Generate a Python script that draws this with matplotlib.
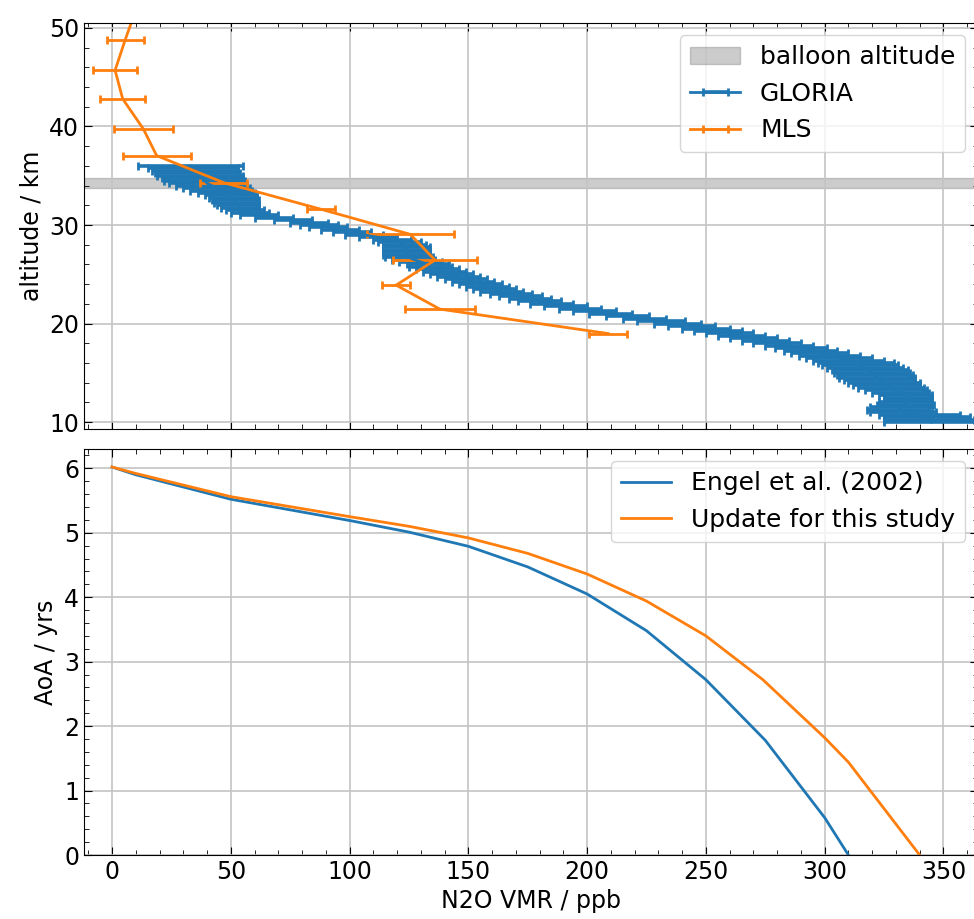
import matplotlib.pyplot as plt
from matplotlib.ticker import MultipleLocator
import numpy as np

plt.rcParams['font.size'] = 17
plt.rcParams['legend.fontsize'] = 18
plt.rcParams['lines.linewidth'] = 2
plt.rcParams['grid.color'] = '#c4c4c4'

# GLORIA N2O profile (0.25 km grid from 10 km to 36 km)
gloria_alt = np.arange(10.0, 36.01, 0.25)
gloria_n2o = [
    345, 344, 343, 340, 333, 331, 332, 334,
    334, 335, 335, 334, 332, 330, 328, 326,
    325, 323, 322, 321, 320, 319, 317, 315,
    313, 310, 306, 302, 298, 294, 290, 285,
    280, 275, 270, 265, 260, 255, 250, 244,
    238, 231, 224, 217, 210, 203, 197, 191,
    185, 180, 176, 172, 168, 164, 161, 158,
    155, 152, 149, 146, 143, 140, 137, 134,
    133, 130, 127, 125, 124, 124, 124, 124,
    123, 121, 118, 112, 106, 101, 96, 91,
    87, 83, 76, 68, 62, 58, 56, 54,
    53, 52, 52, 51, 50, 48, 46, 44,
    42, 40, 39, 38, 37, 36, 35, 34,
    33,
]
gloria_err = [
    20, 19, 18, 17, 14, 13, 13, 12,
    11, 10, 10, 11, 12, 13, 14, 14,
    15, 15, 16, 16, 16, 16, 16, 16,
    16, 15, 14, 13, 12, 11, 11, 10,
    10, 10, 10, 10, 10, 10, 10, 10,
    10, 10, 9, 9, 9, 9, 9, 9,
    9, 9, 9, 9, 9, 9, 9, 9,
    9, 9, 9, 9, 9, 9, 9, 9,
    9, 9, 9, 10, 10, 10, 10, 10,
    9, 9, 8, 8, 8, 8, 8, 8,
    8, 8, 8, 8, 8, 8, 8, 8,
    9, 9, 10, 10, 11, 12, 13, 14,
    15, 16, 17, 17, 18, 18, 18, 19,
    22,
]

# MLS N2O profile
mls_alt = [51.8, 48.75, 45.7, 42.8, 39.75, 37.04, 34.3, 31.6, 29.06, 26.45, 23.9, 21.47, 18.99]
mls_n2o = [10.0, 5.5, 1.3, 4.5, 13.2, 18.8, 47.0, 88.0, 125.5, 136.0, 119.6, 138.0, 208.8]
mls_err = [8.0, 7.8, 9.2, 9.4, 12.3, 14.3, 10.0, 6.0, 18.3, 17.7, 6.0, 14.6, 7.9]

# balloon float altitude range / km
balloon_alt = (33.8, 34.8)

# mean age of air vs N2O
engel_n2o = [0, 10, 50, 100, 125, 150, 175, 200, 225, 250, 275, 300, 310]
engel_aoa = [6.02, 5.9, 5.52, 5.19, 5.01, 4.79, 4.47, 4.05, 3.48, 2.72, 1.78, 0.58, 0.0]
update_n2o = [0, 10, 50, 100, 125, 150, 175, 200, 225, 250, 274, 300, 310, 340]
update_aoa = [6.02, 5.92, 5.56, 5.25, 5.1, 4.92, 4.68, 4.36, 3.94, 3.4, 2.72, 1.82, 1.44, 0.0]

fig, (ax1, ax2) = plt.subplots(2, 1, sharex=True, figsize=(9.74, 9.19), dpi=100)
fig.subplots_adjust(left=0.0862, right=1.004, top=0.975, bottom=0.0696, hspace=0.049)

ax1.axhspan(balloon_alt[0], balloon_alt[1], color='gray', alpha=0.4, label='balloon altitude')
ax1.errorbar(gloria_n2o, gloria_alt, xerr=gloria_err, color='C0',
             elinewidth=2.6, capsize=3, capthick=2, label='GLORIA')
ax1.errorbar(mls_n2o, mls_alt, xerr=mls_err, color='C1',
             capsize=3, capthick=2, label='MLS')
ax1.set_ylim(9.3, 50.5)
ax1.yaxis.set_major_locator(MultipleLocator(10))
ax1.set_ylabel('altitude / km')
ax1.legend(loc='upper right')

ax2.plot(engel_n2o, engel_aoa, color='C0', label='Engel et al. (2002)')
ax2.plot(update_n2o, update_aoa, color='C1', label='Update for this study')
ax2.set_ylim(0, 6.3)
ax2.set_xlim(-11.8, 364.5)
ax2.set_ylabel('AoA / yrs')
ax2.set_xlabel('N2O VMR / ppb')
ax2.legend(loc='upper right')

for ax in (ax1, ax2):
    ax.grid(True, linewidth=1.2)
    ax.minorticks_on()
    ax.tick_params(which='both', direction='in', top=True, right=True)
    ax.tick_params(which='major', length=6)
    ax.tick_params(which='minor', length=3.5)

fig.savefig('out.png')
